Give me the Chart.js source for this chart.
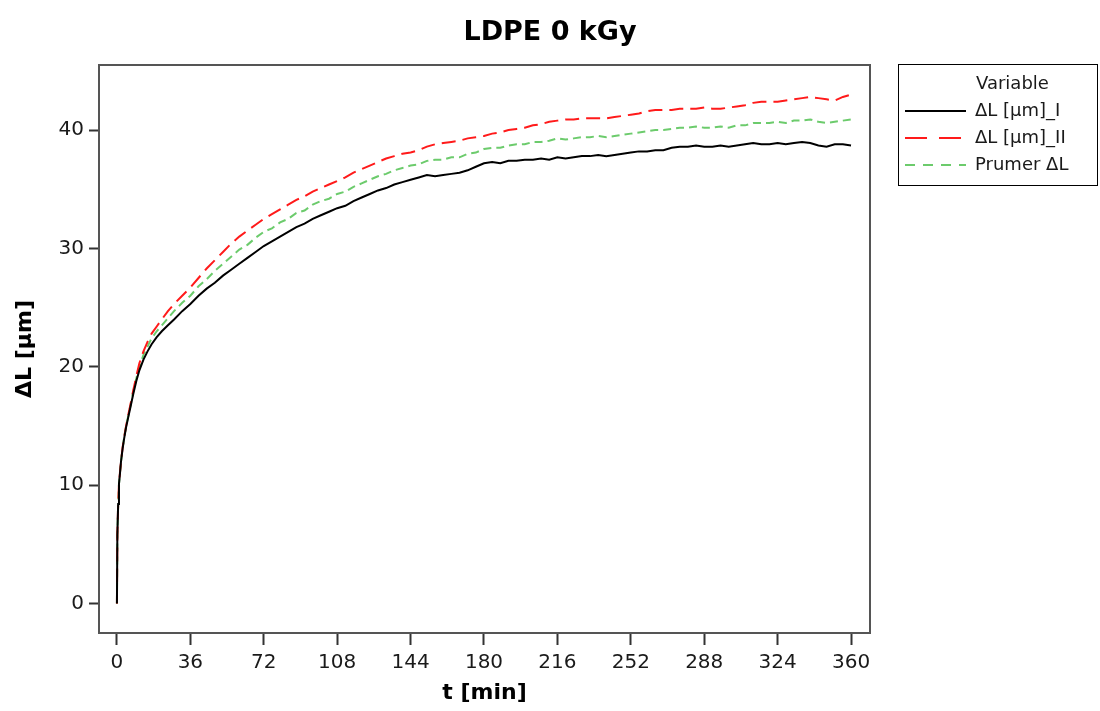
<!DOCTYPE html>
<html>
<head>
<meta charset="utf-8">
<script src="https://cdn.jsdelivr.net/npm/chart.js@4/dist/chart.umd.min.js"></script>
<style>
  html, body { margin: 0; padding: 0; background: #ffffff; }
  #wrap { width: 1100px; height: 711px; }
</style>
</head>
<body>
<div id="wrap"><canvas id="c" width="1100" height="711"></canvas></div>
<script>
// Texts
const chartTitle = 'LDPE 0 kGy';
const xTitle = 't [min]';
const yTitle = 'ΔL [μm]';
const legendTitle = 'Variable';
const seriesNames = ['ΔL [μm]_I', 'ΔL [μm]_II', 'Prumer ΔL'];

// Measurement times [min]
const timeMin = [
  0, 0.2, 0.6, 1, 1.5, 2, 2.8, 3.5, 4.5, 5.5, 6.5, 8, 9.5, 11, 13, 15, 17, 19.5, 22, 25, 28, 32,
  36, 40, 44, 48, 52, 56, 60, 64, 68, 72,
  76, 80, 84, 88, 92, 96, 100, 104, 108, 112,
  116, 120, 124, 128, 132, 136, 140, 144, 148, 152,
  156, 160, 164, 168, 172, 176, 180, 184, 188, 192,
  196, 200, 204, 208, 212, 216, 220, 224, 228, 232,
  236, 240, 244, 248, 252, 256, 260, 264, 268, 272,
  276, 280, 284, 288, 292, 296, 300, 304, 308, 312,
  316, 320, 324, 328, 332, 336, 340, 344, 348, 352,
  356, 360
];

// Elongation of sample I [μm]
const dL1 = [
  0, 5.8, 8.4, 10.1, 11.0, 12.0, 13.1, 13.9, 14.9, 15.7, 16.5, 17.7, 18.8, 19.7, 20.6, 21.3, 21.9, 22.5, 23.0, 23.5, 24.0, 24.7,
  25.3, 26.0, 26.6, 27.1, 27.7, 28.2, 28.7, 29.2, 29.7, 30.2,
  30.6, 31.0, 31.4, 31.8, 32.1, 32.5, 32.8, 33.1, 33.4, 33.6,
  34.0, 34.3, 34.6, 34.9, 35.1, 35.4, 35.6, 35.8, 36.0, 36.2,
  36.1, 36.2, 36.3, 36.4, 36.6, 36.9, 37.2, 37.3, 37.2, 37.4,
  37.4, 37.5, 37.5, 37.6, 37.5, 37.7, 37.6, 37.7, 37.8, 37.8,
  37.9, 37.8, 37.9, 38.0, 38.1, 38.2, 38.2, 38.3, 38.3, 38.5,
  38.6, 38.6, 38.7, 38.6, 38.6, 38.7, 38.6, 38.7, 38.8, 38.9,
  38.8, 38.8, 38.9, 38.8, 38.9, 39.0, 38.9, 38.7, 38.6, 38.8,
  38.8, 38.7
];

// Elongation of sample II [μm]
const dL2 = [
  0, 5.8, 8.4, 10.1, 11.1, 12.0, 13.2, 14.0, 15.0, 15.9, 16.7, 18.0, 19.2, 20.3, 21.3, 22.1, 22.8, 23.4, 24.0, 24.7, 25.3, 26.0,
  26.7, 27.5, 28.3, 29.0, 29.7, 30.4, 31.0, 31.5, 32.0, 32.5,
  32.9, 33.3, 33.7, 34.1, 34.4, 34.8, 35.1, 35.4, 35.7, 36.0,
  36.4, 36.7, 37.0, 37.3, 37.6, 37.8, 38.0, 38.1, 38.3, 38.6,
  38.8, 38.9, 39.0, 39.1, 39.3, 39.4, 39.5, 39.7, 39.8, 40.0,
  40.1, 40.2, 40.4, 40.5, 40.7, 40.8, 40.9, 40.9, 41.0, 41.0,
  41.0, 41.0, 41.1, 41.2, 41.3, 41.4, 41.6, 41.7, 41.7, 41.7,
  41.8, 41.8, 41.8, 41.9, 41.8, 41.8, 41.9, 42.0, 42.1, 42.3,
  42.4, 42.4, 42.4, 42.5, 42.6, 42.7, 42.8, 42.7, 42.6, 42.5,
  42.8, 43.0
];

// Mean elongation of both samples [μm]
const dLMean = [
  0, 5.8, 8.4, 10.1, 11.1, 12.0, 13.1, 14.0, 15.0, 15.8, 16.6, 17.9, 19.0, 20.0, 21.0, 21.7, 22.4, 23.0, 23.5, 24.1, 24.7, 25.4,
  26.0, 26.8, 27.4, 28.1, 28.7, 29.3, 29.9, 30.3, 30.9, 31.4,
  31.7, 32.2, 32.5, 33.0, 33.2, 33.7, 34.0, 34.2, 34.6, 34.8,
  35.2, 35.5, 35.8, 36.1, 36.3, 36.6, 36.8, 37.0, 37.1, 37.4,
  37.5, 37.5, 37.7, 37.7, 38.0, 38.1, 38.4, 38.5, 38.5, 38.7,
  38.8, 38.8, 39.0, 39.0, 39.1, 39.3, 39.2, 39.3, 39.4, 39.4,
  39.5, 39.4, 39.5, 39.6, 39.7, 39.8, 39.9, 40.0, 40.0, 40.1,
  40.2, 40.2, 40.3, 40.2, 40.2, 40.3, 40.2, 40.4, 40.4, 40.6,
  40.6, 40.6, 40.7, 40.6, 40.8, 40.8, 40.9, 40.7, 40.6, 40.7,
  40.8, 40.9
];

// Axis ticks
const xTicks = [0, 36, 72, 108, 144, 180, 216, 252, 288, 324, 360];
const yTicks = [0, 10, 20, 30, 40];

const FONT = '"DejaVu Sans", sans-serif';

function toPoints(ys) {
  return timeMin.map((t, i) => ({ x: t, y: ys[i] }));
}

// Plot frame, chart title and the boxed legend
const decorations = {
  id: 'decorations',
  afterDraw(chart) {
    const { ctx, chartArea: a } = chart;
    ctx.save();

    ctx.strokeStyle = '#555555';
    ctx.lineWidth = 2;
    ctx.strokeRect(a.left, a.top, a.right - a.left, a.bottom - a.top);

    ctx.fillStyle = '#000000';
    ctx.font = 'bold 27px ' + FONT;
    ctx.textAlign = 'center';
    ctx.textBaseline = 'alphabetic';
    ctx.fillText(chartTitle, chart.width / 2, 39.5);

    // legend box
    const bx = 898.5, by = 64.5, bw = 199, bh = 121;
    ctx.strokeStyle = '#000000';
    ctx.lineWidth = 1;
    ctx.strokeRect(bx, by, bw, bh);

    ctx.font = '18px ' + FONT;
    ctx.textAlign = 'left';
    ctx.textBaseline = 'middle';
    ctx.fillStyle = '#1a1a1a';
    ctx.fillText(legendTitle, 976, 84);

    chart.data.datasets.forEach((ds, i) => {
      const yRow = 111 + i * 27;
      ctx.save();
      ctx.strokeStyle = ds.borderColor;
      ctx.lineWidth = ds.borderWidth;
      ctx.setLineDash(ds.legendDash || []);
      ctx.beginPath();
      ctx.moveTo(905, yRow);
      ctx.lineTo(966, yRow);
      ctx.stroke();
      ctx.restore();
      ctx.fillStyle = '#1a1a1a';
      ctx.fillText(ds.label, 975, yRow);
    });

    ctx.restore();
  }
};

new Chart(document.getElementById('c'), {
  type: 'line',
  data: {
    datasets: [
      {
        label: seriesNames[0],
        data: toPoints(dL1),
        borderColor: '#000000',
        borderWidth: 2,
        borderDash: [],
        legendDash: [],
        pointRadius: 0,
        tension: 0,
        fill: false
      },
      {
        label: seriesNames[1],
        data: toPoints(dL2),
        borderColor: '#ff1a1a',
        borderWidth: 2,
        borderDash: [14, 7],
        legendDash: [22, 12],
        pointRadius: 0,
        tension: 0,
        fill: false
      },
      {
        label: seriesNames[2],
        data: toPoints(dLMean),
        borderColor: '#6ccb6c',
        borderWidth: 2,
        borderDash: [8, 5],
        legendDash: [10, 8],
        pointRadius: 0,
        tension: 0,
        fill: false
      }
    ]
  },
  options: {
    responsive: false,
    animation: false,
    devicePixelRatio: 1,
    layout: { padding: { left: 0, right: 230, top: 65, bottom: 0 } },
    plugins: {
      legend: { display: false },
      title: { display: false },
      tooltip: { enabled: false }
    },
    scales: {
      x: {
        type: 'linear',
        min: -8.8,
        max: 369.3,
        afterFit(scale) { scale.height = 78; },
        afterBuildTicks(scale) { scale.ticks = xTicks.map(v => ({ value: v })); },
        ticks: {
          autoSkip: false,
          maxRotation: 0,
          padding: 6,
          color: '#1a1a1a',
          font: { family: FONT, size: 20 }
        },
        grid: {
          drawOnChartArea: false,
          drawTicks: true,
          tickLength: 12,
          tickWidth: 2,
          tickColor: '#333333'
        },
        border: { display: false },
        title: {
          display: true,
          text: xTitle,
          color: '#000000',
          font: { family: FONT, size: 22, weight: 'bold' },
          padding: { top: 0, bottom: 5 }
        }
      },
      y: {
        type: 'linear',
        min: -2.5,
        max: 45.5,
        afterFit(scale) { scale.width = 99; },
        afterBuildTicks(scale) { scale.ticks = yTicks.map(v => ({ value: v })); },
        ticks: {
          autoSkip: false,
          padding: 5,
          color: '#1a1a1a',
          font: { family: FONT, size: 20 }
        },
        grid: {
          drawOnChartArea: false,
          drawTicks: true,
          tickLength: 10,
          tickWidth: 2,
          tickColor: '#333333'
        },
        border: { display: false },
        title: {
          display: true,
          text: yTitle,
          color: '#000000',
          font: { family: FONT, size: 22, weight: 'bold' },
          padding: { top: 12, bottom: 0 }
        }
      }
    }
  },
  plugins: [decorations]
});
</script>
</body>
</html>
